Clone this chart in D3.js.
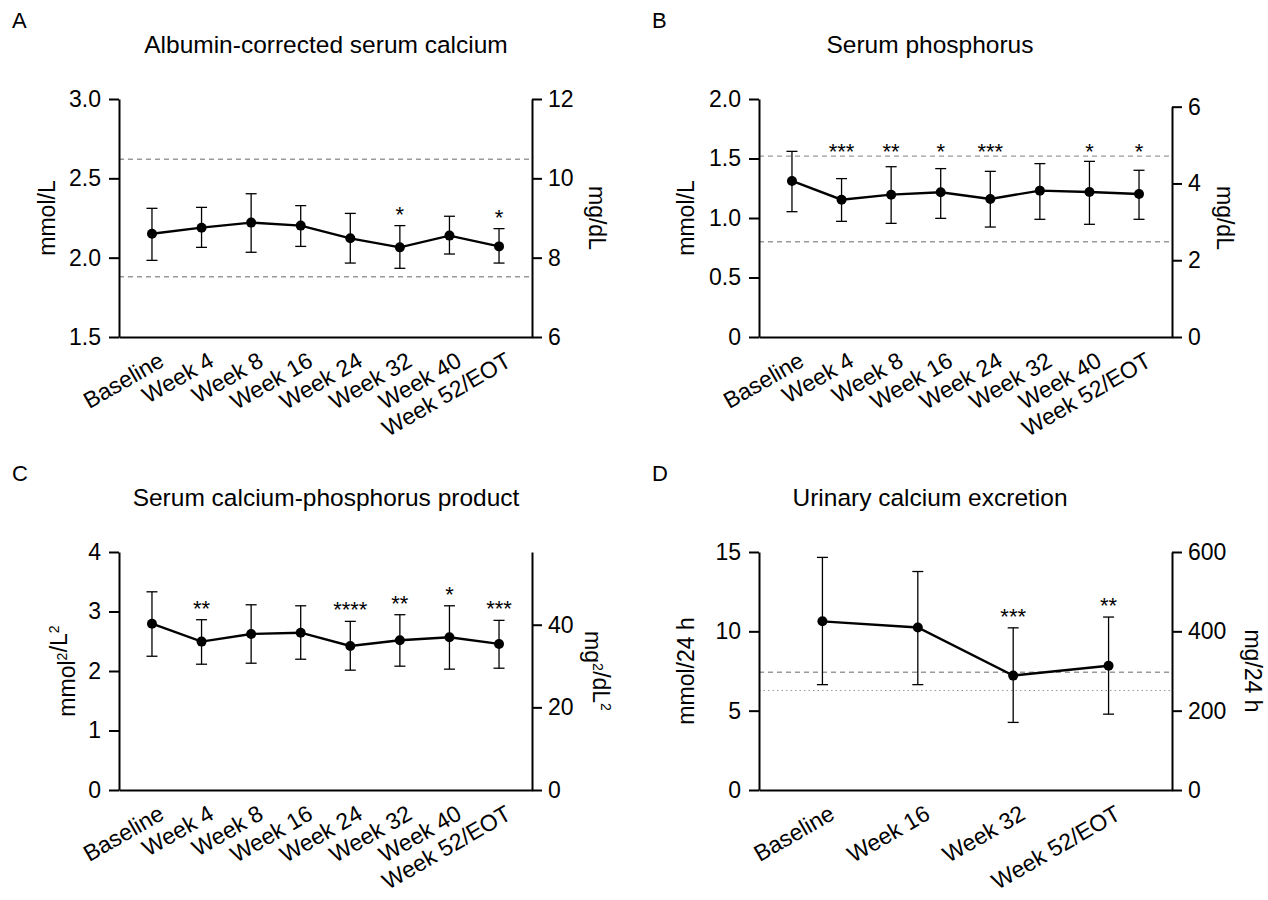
<!DOCTYPE html>
<html lang="en">
<head>
<meta charset="UTF-8">
<title>Mineral parameters over 52 weeks</title>
<script src="https://d3js.org/d3.v7.min.js"></script>
<style>
  body { margin: 0; background: #fff; }
  svg { font-family: "Liberation Sans", Arial, Helvetica, sans-serif; }
</style>
</head>
<body>
<svg width="1268" height="900"></svg>
<script>
// visit labels
const visits8 = ["Baseline", "Week 4", "Week 8", "Week 16", "Week 24", "Week 32", "Week 40", "Week 52/EOT"];
const visits4 = ["Baseline", "Week 16", "Week 32", "Week 52/EOT"];

// A: albumin-corrected serum calcium (mmol/L), mean with error bar ends
const caMean  = [2.151, 2.189, 2.221, 2.202, 2.122, 2.065, 2.139, 2.071];
const caUpper = [2.311, 2.317, 2.403, 2.328, 2.279, 2.202, 2.261, 2.183];
const caLower = [1.983, 2.065, 2.034, 2.071, 1.966, 1.933, 2.023, 1.966];
const caStars = ["", "", "", "", "", "*", "", "*"];
const caRefs  = [2.62, 1.88];

// B: serum phosphorus (mmol/L)
const pMean  = [1.311, 1.154, 1.196, 1.216, 1.160, 1.230, 1.218, 1.202];
const pUpper = [1.560, 1.331, 1.431, 1.415, 1.392, 1.457, 1.476, 1.401];
const pLower = [1.053, 0.972, 0.955, 0.997, 0.924, 0.989, 0.947, 0.989];
const pStars = ["", "***", "**", "*", "***", "", "*", "*"];
const pRefs  = [1.52, 0.80];

// C: calcium-phosphorus product (mmol2/L2)
const cpMean  = [2.795, 2.494, 2.622, 2.644, 2.421, 2.516, 2.566, 2.455];
const cpUpper = [3.331, 2.862, 3.113, 3.096, 2.834, 2.946, 3.096, 2.851];
const cpLower = [2.248, 2.114, 2.131, 2.198, 2.014, 2.081, 2.031, 2.047];
const cpStars = ["", "**", "", "", "****", "**", "*", "***"];

// D: urinary calcium excretion (mmol/24 h)
const uMean  = [10.63, 10.24, 7.21, 7.83];
const uUpper = [14.66, 13.77, 10.22, 10.90];
const uLower = [6.64, 6.64, 4.26, 4.78];
const uStars = ["", "", "***", "**"];
const uDashed = 7.42;
const uDotted = 6.27;

const svg = d3.select("svg");
const FS = 23;

function drawPanel(p) {
    const w = p.x1 - p.x0, h = p.y1 - p.y0;
    const g = svg.append("g").attr("transform", `translate(${p.x0},${p.y0})`);

    const x = d3.scalePoint().domain(p.visits).range([0, w]).padding(0.665);
    const y = d3.scaleLinear().domain(p.yDomain).range([h, 0]);
    const yR = d3.scaleLinear().domain(p.rDomain).range([h, 0]);
    const yRshown = d3.scaleLinear().domain(p.rShown).range(p.rShown.map(yR));

    // reference lines
    (p.dashed || []).forEach(v => {
        g.append("line")
            .attr("x1", 0).attr("x2", w)
            .attr("y1", y(v)).attr("y2", y(v))
            .attr("stroke", "#9a9a9a").attr("stroke-width", 1.4)
            .attr("stroke-dasharray", "5,4");
    });
    (p.dotted || []).forEach(v => {
        g.append("line")
            .attr("x1", 0).attr("x2", w)
            .attr("y1", y(v)).attr("y2", y(v))
            .attr("stroke", "#9a9a9a").attr("stroke-width", 1.2)
            .attr("stroke-dasharray", "1.5,3");
    });

    const data = p.visits.map((v, i) => ({ v, m: p.mean[i], hi: p.upper[i], lo: p.lower[i], s: p.stars[i] }));

    // error bars
    const eb = g.selectAll(".eb").data(data).enter().append("g")
        .attr("stroke", "#000").attr("stroke-width", 1.3);
    eb.append("line")
        .attr("x1", d => x(d.v)).attr("x2", d => x(d.v))
        .attr("y1", d => y(d.hi)).attr("y2", d => y(d.lo));
    eb.append("line")
        .attr("x1", d => x(d.v) - 5.5).attr("x2", d => x(d.v) + 5.5)
        .attr("y1", d => y(d.hi)).attr("y2", d => y(d.hi));
    eb.append("line")
        .attr("x1", d => x(d.v) - 5.5).attr("x2", d => x(d.v) + 5.5)
        .attr("y1", d => y(d.lo)).attr("y2", d => y(d.lo));

    // mean line and points
    g.append("path")
        .datum(data)
        .attr("fill", "none").attr("stroke", "#000").attr("stroke-width", 2.4)
        .attr("d", d3.line().x(d => x(d.v)).y(d => y(d.m)));
    g.selectAll(".pt").data(data).enter().append("circle")
        .attr("cx", d => x(d.v)).attr("cy", d => y(d.m))
        .attr("r", 5).attr("fill", "#000");

    // significance stars
    g.selectAll(".star").data(data.filter(d => d.s)).enter().append("text")
        .attr("x", d => x(d.v))
        .attr("y", d => p.starLevel != null ? y(p.starLevel) : y(d.hi) - 4)
        .attr("text-anchor", "middle")
        .attr("font-size", 22)
        .text(d => d.s);

    // axes
    const left = g.append("g")
        .call(d3.axisLeft(y).tickValues(p.yTicks).tickFormat(p.yFmt)
            .tickSize(10).tickPadding(8).tickSizeOuter(0));
    const right = g.append("g")
        .attr("transform", `translate(${w},0)`)
        .call(d3.axisRight(yRshown).tickValues(p.rTicks).tickFormat(d3.format("d"))
            .tickSize(10).tickPadding(6).tickSizeOuter(0));
    const bottom = g.append("g")
        .attr("transform", `translate(0,${h})`)
        .call(d3.axisBottom(x).tickSize(0).tickSizeOuter(0));

    [left, right, bottom].forEach(a => {
        a.attr("font-family", null).attr("font-size", FS);
        a.selectAll("path, line").attr("stroke", "#000").attr("stroke-width", 2);
        a.selectAll("text").attr("fill", "#000");
    });
    bottom.selectAll("text")
        .attr("font-size", 23)
        .attr("x", 0).attr("y", 0).attr("dy", "0.71em")
        .attr("text-anchor", "end")
        .attr("transform", "translate(5,14) rotate(-30)");

    // axis titles
    const lt = g.append("text")
        .attr("transform", `translate(${p.lLabelX - p.x0},${h / 2}) rotate(-90)`)
        .attr("text-anchor", "middle").attr("font-size", FS);
    p.lLabel.forEach(([t, sup]) => {
        lt.append("tspan").text(t);
        if (sup) lt.append("tspan").attr("font-size", 14).attr("dy", "-0.6em").text(sup)
            .clone().attr("font-size", 1).attr("dy", "0.6em").text(" ");
    });
    const rt = g.append("text")
        .attr("transform", `translate(${p.rLabelX - p.x0},${h / 2}) rotate(90)`)
        .attr("text-anchor", "middle").attr("font-size", FS);
    p.rLabel.forEach(([t, sup]) => {
        rt.append("tspan").text(t);
        if (sup) rt.append("tspan").attr("font-size", 14).attr("dy", "-0.6em").text(sup)
            .clone().attr("font-size", 1).attr("dy", "0.6em").text(" ");
    });

    // panel letter and title
    svg.append("text").attr("x", p.letterX).attr("y", p.y0 - 71)
        .attr("font-size", 22).text(p.letter);
    svg.append("text").attr("x", p.titleX).attr("y", p.y0 - 46)
        .attr("text-anchor", "middle").attr("font-size", 24.5).text(p.title);
}

drawPanel({
    letter: "A", title: "Albumin-corrected serum calcium",
    x0: 119, x1: 532, y0: 99, y1: 337, letterX: 12, titleX: 326,
    visits: visits8, mean: caMean, upper: caUpper, lower: caLower, stars: caStars,
    yDomain: [1.5, 3.0], yTicks: [1.5, 2.0, 2.5, 3.0], yFmt: d3.format(".1f"),
    rDomain: [6, 12], rShown: [6, 12], rTicks: [6, 8, 10, 12],
    dashed: caRefs,
    lLabel: [["mmol/L"]], lLabelX: 55,
    rLabel: [["mg/dL"]], rLabelX: 589
});

drawPanel({
    letter: "B", title: "Serum phosphorus",
    x0: 759, x1: 1172, y0: 99, y1: 337, letterX: 652, titleX: 930,
    visits: visits8, mean: pMean, upper: pUpper, lower: pLower, stars: pStars, starLevel: 1.495,
    yDomain: [0, 2.0], yTicks: [0, 0.5, 1.0, 1.5, 2.0], yFmt: d => d === 0 ? "0" : d3.format(".1f")(d),
    rDomain: [0, 6.2], rShown: [0, 6], rTicks: [0, 2, 4, 6],
    dashed: pRefs,
    lLabel: [["mmol/L"]], lLabelX: 694,
    rLabel: [["mg/dL"]], rLabelX: 1217
});

drawPanel({
    letter: "C", title: "Serum calcium-phosphorus product",
    x0: 119, x1: 532, y0: 552, y1: 790, letterX: 12, titleX: 326,
    visits: visits8, mean: cpMean, upper: cpUpper, lower: cpLower, stars: cpStars,
    yDomain: [0, 4], yTicks: [0, 1, 2, 3, 4], yFmt: d3.format("d"),
    rDomain: [0, 57.6], rShown: [0, 57.6], rTicks: [0, 20, 40],
    lLabel: [["mmol", "2"], ["/L", "2"]], lLabelX: 75,
    rLabel: [["mg", "2"], ["/dL", "2"]], rLabelX: 585
});

drawPanel({
    letter: "D", title: "Urinary calcium excretion",
    x0: 759, x1: 1172, y0: 552, y1: 790, letterX: 652, titleX: 930,
    visits: visits4, mean: uMean, upper: uUpper, lower: uLower, stars: uStars,
    yDomain: [0, 15], yTicks: [0, 5, 10, 15], yFmt: d3.format("d"),
    rDomain: [0, 600], rShown: [0, 600], rTicks: [0, 200, 400, 600],
    dashed: [uDashed], dotted: [uDotted],
    lLabel: [["mmol/24 h"]], lLabelX: 694,
    rLabel: [["mg/24 h"]], rLabelX: 1245
});
</script>
</body>
</html>
